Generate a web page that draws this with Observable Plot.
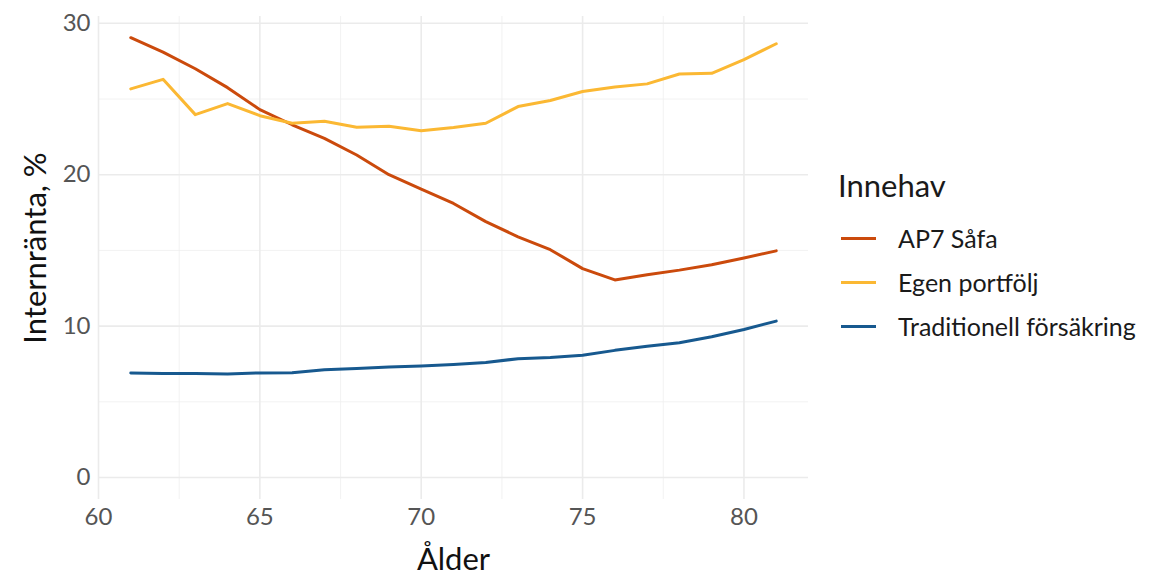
<!DOCTYPE html>
<html>
<head>
<meta charset="utf-8">
<script src="https://cdn.jsdelivr.net/npm/d3@7"></script>
<script src="https://cdn.jsdelivr.net/npm/@observablehq/plot@0.6"></script>
<style>
  html, body { margin: 0; padding: 0; background: #fff; }
  #wrap { position: relative; width: 1149px; height: 576px; font-family: Lato, "Open Sans", sans-serif; }
  #legend { position: absolute; left: 838px; top: 160px; color: #1a1a1a; }
  #legend .title { font-size: 31px; line-height: 50px; margin-bottom: 6px; }
  #legend .item { display: flex; align-items: center; height: 44px; font-size: 25px; }
  #legend .sw { width: 35px; height: 3px; margin-left: 3px; margin-right: 22px; }
</style>
</head>
<body>
<div id="wrap"><div id="chart"></div><div id="legend"></div></div>
<script>
const ages = [61,62,63,64,65,66,67,68,69,70,71,72,73,74,75,76,77,78,79,80,81];
const ap7 = [29.05,28.1,27.0,25.75,24.3,23.3,22.4,21.3,20.0,19.05,18.1,16.9,15.9,15.05,13.8,13.05,13.4,13.7,14.05,14.5,14.97];
const egen = [25.67,26.3,23.97,24.7,23.9,23.4,23.53,23.13,23.2,22.9,23.12,23.4,24.5,24.9,25.5,25.8,26.0,26.65,26.7,27.6,28.65];
const trad = [6.91,6.87,6.87,6.84,6.91,6.92,7.12,7.2,7.3,7.37,7.47,7.6,7.85,7.93,8.08,8.4,8.67,8.9,9.3,9.78,10.33];
const seriesNames = ["AP7 Såfa", "Egen portfölj", "Traditionell försäkring"];
const seriesColors = ["#CB4A0C", "#FBB833", "#17598F"];
const xTicks = [60,65,70,75,80];
const yTicks = [0,10,20,30];
const xMinor = [62.5,67.5,72.5,77.5];
const yMinor = [5,15,25];

const rows = [];
[ap7, egen, trad].forEach((vals, si) => {
  vals.forEach((v, i) => rows.push({age: ages[i], value: v, series: seriesNames[si]}));
});

const fontFam = "Lato, 'Open Sans', sans-serif";
const chart = Plot.plot({
  width: 820,
  height: 576,
  marginLeft: 98,
  marginRight: 12,
  marginTop: 16,
  marginBottom: 77,
  style: { fontFamily: fontFam, background: "transparent" },
  x: { domain: [60, 82] },
  y: { domain: [-1.45, 30.45] },
  color: { domain: seriesNames, range: seriesColors },
  marks: [
    Plot.ruleY(yMinor, { stroke: "#EFEFEF", strokeWidth: 0.8 }),
    Plot.ruleX(xMinor, { stroke: "#EFEFEF", strokeWidth: 0.8 }),
    Plot.ruleY(yTicks, { stroke: "#EBEBEB", strokeWidth: 1.6 }),
    Plot.ruleX(xTicks, { stroke: "#EBEBEB", strokeWidth: 1.6 }),
    Plot.axisY(yTicks, { tickSize: 0, tickPadding: 8, fontSize: 24, fill: "#555", label: null }),
    Plot.axisX(xTicks, { tickSize: 0, tickPadding: 8, fontSize: 24, fill: "#555", label: null }),
    Plot.text(["Ålder"], { frameAnchor: "bottom", dy: 70, fontSize: 31, fill: "#111" }),
    Plot.text(["Internränta, %"], { frameAnchor: "left", textAnchor: "middle", dx: -62, dy: -10, rotate: -90, fontSize: 31, fill: "#111" }),
    Plot.line(rows, { x: "age", y: "value", z: "series", stroke: "series", strokeWidth: 3 })
  ]
});
document.getElementById("chart").appendChild(chart);

const legend = document.getElementById("legend");
const t = document.createElement("div");
t.className = "title"; t.textContent = "Innehav";
legend.appendChild(t);
seriesNames.forEach((n, i) => {
  const it = document.createElement("div"); it.className = "item";
  const sw = document.createElement("div"); sw.className = "sw"; sw.style.background = seriesColors[i];
  const lb = document.createElement("span"); lb.textContent = n;
  it.appendChild(sw); it.appendChild(lb); legend.appendChild(it);
});
</script>
</body>
</html>
